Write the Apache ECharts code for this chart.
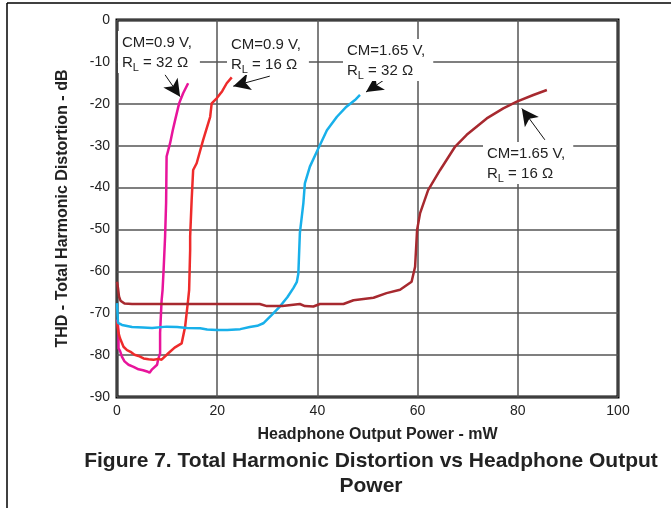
<!DOCTYPE html>
<html>
<head>
<meta charset="utf-8">
<script src="https://cdn.jsdelivr.net/npm/echarts@6/dist/echarts.min.js"></script>
<style>
    html, body { margin: 0; padding: 0; background: #fff; }
    #chart { width: 671px; height: 508px; }
</style>
</head>
<body>
<div id="chart"></div>
<script>
// axis ticks
const xTicks = [0, 20, 40, 60, 80, 100]
const yTicks = [0, -10, -20, -30, -40, -50, -60, -70, -80, -90]

// [power mW, THD dB]
const cm09r32 = [[0, -71.5], [0.2, -72.8], [0.3, -75], [0.3, -78.4], [0.6, -79], [1, -80.4], [1.5, -81.5], [2.3, -82.3],
    [3.3, -82.8], [4.3, -83.4], [5.2, -83.6], [6, -83.9], [6.5, -84.2], [7, -83.4], [8, -82.3], [8.2, -81.1], [8.6, -79.6],
    [8.6, -74.7], [8.9, -67], [9.1, -64.4], [9.3, -59.7], [9.6, -51.7], [9.8, -43.7], [9.9, -32.6], [10.6, -29.4],
    [11.1, -26.5], [11.6, -23.9], [12.4, -19.9], [13.2, -17.5], [14.2, -15.1]]
const cm09r16 = [[0, -72], [0.3, -74.7], [0.6, -76], [1.3, -78], [2, -78.8], [2.7, -79.2], [3.5, -79.9], [4.3, -80.2],
    [5.3, -80.8], [6.3, -81], [7.3, -81.1], [8.3, -80.9], [8.9, -81.1], [10.3, -79.5], [11.5, -78.2], [12.9, -77.2],
    [13.6, -73.2], [14.2, -66.8], [14.4, -64.4], [14.6, -54.9], [14.6, -51.7], [14.9, -43], [15.2, -35.8], [15.9, -34.2],
    [17.2, -28.6], [18.6, -23.1], [18.9, -19.9], [19.9, -18.7], [21, -17], [21.9, -15.1], [22.9, -13.7]]
const cm165r32 = [[0, -67.6], [0.1, -70], [0.2, -72.3], [1, -72.8], [3, -73.3], [5.2, -73.4], [7, -73.5], [9.9, -73.2],
    [12, -73.3], [14, -73.5], [16.6, -73.6], [18, -73.9], [19.9, -74], [22, -74], [24.6, -73.8], [26.5, -73.3], [28, -73],
    [29.2, -72.4], [30.8, -70.5], [32.5, -68.4], [34, -66.2], [35.2, -64], [35.9, -62.5], [36.2, -60.5], [36.5, -50.9],
    [37.2, -43.7], [37.5, -39], [38.5, -35], [39.9, -31.4], [41.9, -26.3], [43.9, -23.1], [45.8, -20.7], [47.5, -19.1],
    [48.5, -17.9]]
const cm165r16 = [[0, -62.5], [0.2, -64], [0.4, -66], [0.7, -67], [1, -67.2], [1.5, -67.7], [3, -67.8], [10, -67.8],
    [20, -67.8], [28.5, -67.8], [29.9, -68.3], [33, -68.3], [36.5, -67.8], [37.5, -68.3], [39.2, -68.4], [40.5, -67.8],
    [45.2, -67.8], [47.2, -66.9], [51.2, -66.3], [53.8, -65.2], [56.5, -64.4], [58.8, -62.5], [59.5, -58.9], [59.9, -50.1],
    [60.5, -46.1], [62.1, -40.6], [64.5, -35.8], [67.5, -30.2], [69.8, -27.4], [73.8, -23.5], [77.1, -21.1], [79.8, -19.5],
    [83.1, -17.9], [85.8, -16.7]]

// annotation arrows: [tail, head] in data units
const arrows = [
    [[9.6, -13.1], [12.6, -18.3]],
    [[30.5, -13.4], [23.2, -15.8]],
    [[53.2, -14.4], [49.7, -17.2]],
    [[85.4, -28.6], [80.8, -21.1]]
]

const font = 'Liberation Sans, Arial, Helvetica, sans-serif'

function curve(name, data, color, arrow) {
    return {
        name: name,
        type: 'line',
        data: data,
        showSymbol: false,
        silent: true,
        lineStyle: { color: color, width: 2.5 },
        markLine: {
            silent: true,
            symbol: ['none', 'arrow'],
            symbolSize: [13, 17],
            label: { show: false },
            lineStyle: { color: '#111', width: 1, type: 'solid' },
            data: [[{ coord: arrow[0] }, { coord: arrow[1] }]]
        },
        z: 11
    }
}

function note(left, top, line1, rl) {
    return {
        type: 'text',
        left: left,
        top: top,
        z: 10,
        style: {
            text: line1 + '\nR{s|L} = ' + rl + ' Ω',
            font: '15px ' + font,
            fill: '#222',
            lineHeight: 20,
            backgroundColor: '#fff',
            padding: [2, 8, 0, 4],
            rich: {
                s: { fontSize: 11, fontFamily: font, fill: '#222', lineHeight: 12, verticalAlign: 'bottom', padding: [6, 0, 0, 0] }
            }
        }
    }
}

const chart = echarts.init(document.getElementById('chart'))
chart.setOption({
    animation: false,
    backgroundColor: '#fff',
    grid: {
        left: 117,
        right: 53,
        top: 20,
        bottom: 111,
        show: true,
        borderColor: '#000',
        borderWidth: 3
    },
    xAxis: {
        type: 'value',
        min: xTicks[0],
        max: xTicks[xTicks.length - 1],
        interval: 20,
        axisLine: { show: false },
        axisTick: { show: false },
        axisLabel: { color: '#222', fontSize: 14, fontFamily: font, margin: 7 },
        splitLine: { lineStyle: { color: '#555', width: 1.5 } },
        name: 'Headphone Output Power - mW',
        nameLocation: 'middle',
        nameGap: 30,
        nameTextStyle: { color: '#222', fontSize: 16, fontWeight: 'bold', fontFamily: font, padding: [0, 0, 0, 20] }
    },
    yAxis: {
        type: 'value',
        min: yTicks[yTicks.length - 1],
        max: yTicks[0],
        interval: 10,
        axisLine: { show: false },
        axisTick: { show: false },
        axisLabel: { color: '#222', fontSize: 14, fontFamily: font, margin: 7 },
        splitLine: { lineStyle: { color: '#555', width: 1.5 } },
        name: 'THD - Total Harmonic Distortion - dB',
        nameLocation: 'middle',
        nameGap: 46,
        nameTextStyle: { color: '#222', fontSize: 16, fontWeight: 'bold', fontFamily: font }
    },
    graphic: [
        { type: 'line', shape: { x1: 7, y1: 3, x2: 671, y2: 3 }, style: { stroke: '#000', lineWidth: 1.5 } },
        { type: 'line', shape: { x1: 7, y1: 3, x2: 7, y2: 508 }, style: { stroke: '#000', lineWidth: 1.5 } },
        note(118, 31, 'CM=0.9 V,', '32'),
        note(227, 33, 'CM=0.9 V,', '16'),
        note(343, 39, 'CM=1.65 V,', '32'),
        note(483, 142, 'CM=1.65 V,', '16'),
        {
            type: 'text',
            x: 371,
            y: 449,
            style: {
                text: 'Figure 7. Total Harmonic Distortion vs Headphone Output\nPower',
                font: 'bold 21px ' + font,
                fill: '#222',
                textAlign: 'center',
                lineHeight: 25
            }
        }
    ],
    series: [
        curve('CM=0.9 V, RL=32', cm09r32, '#e8149b', arrows[0]),
        curve('CM=0.9 V, RL=16', cm09r16, '#ee2b2b', arrows[1]),
        curve('CM=1.65 V, RL=32', cm165r32, '#18b0ea', arrows[2]),
        curve('CM=1.65 V, RL=16', cm165r16, '#a7292f', arrows[3])
    ]
})
</script>
</body>
</html>
